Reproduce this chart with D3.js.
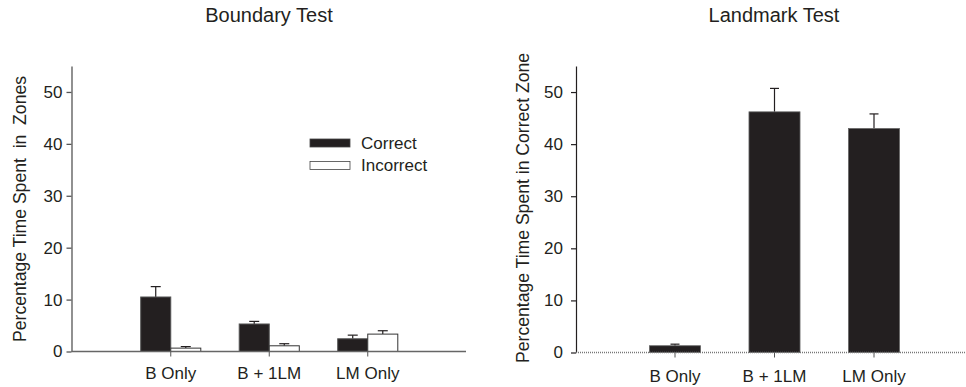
<!DOCTYPE html>
<html>
<head>
<meta charset="utf-8">
<script src="https://cdn.jsdelivr.net/npm/d3@7"></script>
<style>
  body { margin: 0; background: #fff; }
  svg text { font-family: "Liberation Sans", Arial, sans-serif; fill: #231f20; }
</style>
</head>
<body>
<script>
// data
const categories = ["B Only", "B + 1LM", "LM Only"];
const series = ["Correct", "Incorrect"];
const boundaryCorrect = [10.5, 5.3, 2.45];
const boundaryCorrectErr = [2.0, 0.5, 0.7];
const boundaryIncorrect = [0.65, 1.1, 3.35];
const boundaryIncorrectErr = [0.3, 0.4, 0.65];
const landmarkCorrect = [1.3, 46.2, 43.0];
const landmarkCorrectErr = [0.3, 4.5, 2.8];
const yTicks = [0, 10, 20, 30, 40, 50];

const width = 966, height = 387;
const dark = "#231f20";
const fs = "17px";

const svg = d3.select("body").append("svg")
  .attr("width", width)
  .attr("height", height)
  .attr("viewBox", [0, 0, width, height]);

// ---------- Left panel: Boundary Test ----------
const L = { left: 71.5, right: 466, top: 66, bottom: 351.5 };

const yL = d3.scaleLinear().domain([0, 55]).range([L.bottom, L.top]);
const xL = d3.scaleBand().domain(categories).range([121.5, 417])
  .paddingInner(0.39).paddingOuter(0.195);
const xLs = d3.scaleBand().domain(series).range([0, xL.bandwidth()]);

const leftRows = categories.map((c, i) => [
  { cat: c, s: "Correct", v: boundaryCorrect[i], e: boundaryCorrectErr[i] },
  { cat: c, s: "Incorrect", v: boundaryIncorrect[i], e: boundaryIncorrectErr[i] }
]).flat();

const gL = svg.append("g");

// error bars (upper only)
gL.selectAll(".err").data(leftRows).join("g").attr("class", "err")
  .each(function (d) {
    const cx = xL(d.cat) + xLs(d.s) + xLs.bandwidth() / 2;
    const g = d3.select(this);
    g.append("line").attr("x1", cx).attr("x2", cx)
      .attr("y1", yL(d.v)).attr("y2", yL(d.v + d.e))
      .attr("stroke", dark).attr("stroke-width", 1.2);
    g.append("line").attr("x1", cx - 5).attr("x2", cx + 5)
      .attr("y1", yL(d.v + d.e)).attr("y2", yL(d.v + d.e))
      .attr("stroke", dark).attr("stroke-width", 1.2);
  });

gL.selectAll(".bar").data(leftRows).join("rect").attr("class", "bar")
  .attr("x", d => xL(d.cat) + xLs(d.s))
  .attr("width", xLs.bandwidth())
  .attr("y", d => yL(d.v))
  .attr("height", d => yL(0) - yL(d.v))
  .attr("fill", d => d.s === "Correct" ? dark : "#fff")
  .attr("stroke", d => d.s === "Correct" ? "#555" : "#333")
  .attr("stroke-width", 1);

// y axis
gL.append("g")
  .attr("transform", `translate(${L.left},0)`)
  .call(d3.axisLeft(yL).tickValues(yTicks).tickSize(5).tickSizeOuter(0).tickPadding(4))
  .call(g => g.selectAll("text").style("font-size", fs))
  .call(g => g.selectAll("path,line").attr("stroke", "#555").attr("stroke-width", 1.3));

// x axis
gL.append("line")
  .attr("x1", L.left).attr("x2", L.right)
  .attr("y1", yL(0)).attr("y2", yL(0))
  .attr("stroke", "#666").attr("stroke-width", 1.6);
gL.append("g")
  .attr("transform", `translate(0,${yL(0)})`)
  .call(d3.axisBottom(xL).tickSize(5).tickSizeOuter(0).tickPadding(10))
  .call(g => g.select(".domain").remove())
  .call(g => g.selectAll("text").style("font-size", fs))
  .call(g => g.selectAll("line").attr("stroke", "#555"));

gL.append("text")
  .attr("x", 269).attr("y", 22)
  .attr("text-anchor", "middle").style("font-size", "20px")
  .text("Boundary Test");

gL.append("text")
  .attr("transform", `translate(26,209) rotate(-90)`)
  .attr("text-anchor", "middle").style("font-size", "17.6px")
  .attr("xml:space", "preserve")
  .text("Percentage Time Spent  in  Zones");

// legend
const leg = gL.append("g").attr("transform", "translate(310,139)");
leg.selectAll("rect").data(series).join("rect")
  .attr("x", 0).attr("y", (d, i) => i * 22.5)
  .attr("width", 40).attr("height", 8)
  .attr("fill", d => d === "Correct" ? dark : "#fff")
  .attr("stroke", "#444").attr("stroke-width", 0.8);
leg.selectAll("text").data(series).join("text")
  .attr("x", 51).attr("y", (d, i) => i * 22.5 + 4)
  .attr("dy", "0.35em")
  .style("font-size", fs)
  .text(d => d);

// ---------- Right panel: Landmark Test ----------
const R = { left: 576, right: 966, top: 66, bottom: 352.5 };

const yR = d3.scaleLinear().domain([0, 55]).range([R.bottom, R.top]);
const xR = d3.scaleBand().domain(categories).range([625.25, 923.75])
  .paddingInner(0.487).paddingOuter(0.2435);

const rightRows = categories.map((c, i) => ({ cat: c, v: landmarkCorrect[i], e: landmarkCorrectErr[i] }));

const gR = svg.append("g");

gR.selectAll(".err").data(rightRows).join("g").attr("class", "err")
  .each(function (d) {
    const cx = xR(d.cat) + xR.bandwidth() / 2;
    const g = d3.select(this);
    g.append("line").attr("x1", cx).attr("x2", cx)
      .attr("y1", yR(d.v)).attr("y2", yR(d.v + d.e))
      .attr("stroke", dark).attr("stroke-width", 1.2);
    g.append("line").attr("x1", cx - 4.5).attr("x2", cx + 4.5)
      .attr("y1", yR(d.v + d.e)).attr("y2", yR(d.v + d.e))
      .attr("stroke", dark).attr("stroke-width", 1.2);
  });

gR.selectAll(".bar").data(rightRows).join("rect").attr("class", "bar")
  .attr("x", d => xR(d.cat))
  .attr("width", xR.bandwidth())
  .attr("y", d => yR(d.v))
  .attr("height", d => yR(0) - yR(d.v))
  .attr("fill", dark)
  .attr("stroke", "#666").attr("stroke-width", 0.8);

gR.append("g")
  .attr("transform", `translate(${R.left},0)`)
  .call(d3.axisLeft(yR).tickValues(yTicks).tickSize(5).tickSizeOuter(0).tickPadding(8))
  .call(g => g.selectAll("text").style("font-size", fs))
  .call(g => g.selectAll("path,line").attr("stroke", dark).attr("stroke-width", 1.2));

gR.append("line")
  .attr("x1", R.left).attr("x2", R.right)
  .attr("y1", yR(0)).attr("y2", yR(0))
  .attr("stroke", "#777").attr("stroke-width", 1.5)
  .attr("stroke-dasharray", "1,1");
gR.append("g")
  .attr("transform", `translate(0,${yR(0)})`)
  .call(d3.axisBottom(xR).tickSize(5).tickSizeOuter(0).tickPadding(12))
  .call(g => g.select(".domain").remove())
  .call(g => g.selectAll("text").style("font-size", fs))
  .call(g => g.selectAll("line").attr("stroke", "#555"));

gR.append("text")
  .attr("x", 774).attr("y", 22)
  .attr("text-anchor", "middle").style("font-size", "20px")
  .text("Landmark Test");

gR.append("text")
  .attr("transform", `translate(529,208) rotate(-90)`)
  .attr("text-anchor", "middle").style("font-size", "17.6px")
  .text("Percentage Time Spent in Correct Zone");
</script>
</body>
</html>
